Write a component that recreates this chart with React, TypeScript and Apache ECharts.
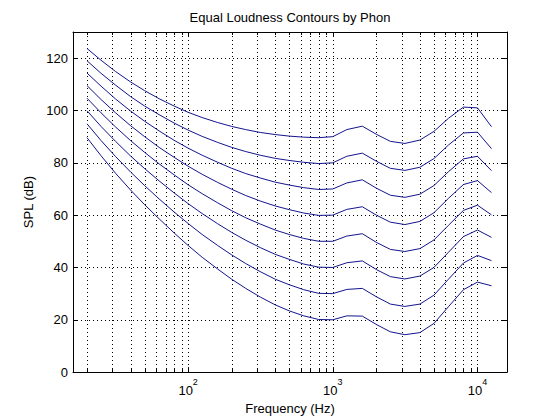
import React, { useEffect, useRef } from "react";
import * as echarts from "echarts";

const frequencies = [20, 25, 31.5, 40, 50, 63, 80, 100, 125, 160, 200, 250, 315, 400, 500, 630, 800, 1000, 1250, 1600, 2000, 2500, 3150, 4000, 5000, 6300, 8000, 10000, 12500];

const phon20 = [89.6, 82.7, 76.0, 69.6, 64.0, 58.6, 53.2, 48.4, 43.9, 39.4, 35.5, 32.0, 28.7, 25.7, 23.4, 21.5, 20.1, 20.0, 21.5, 21.4, 18.2, 15.4, 14.3, 15.1, 18.6, 25.0, 31.5, 34.4, 33.0];
const phon30 = [94.9, 88.5, 82.4, 76.5, 71.3, 66.2, 61.2, 56.8, 52.6, 48.4, 44.8, 41.5, 38.4, 35.5, 33.4, 31.5, 30.1, 30.0, 31.6, 32.0, 28.8, 26.0, 25.1, 26.0, 29.4, 35.5, 41.7, 44.6, 42.6];
const phon40 = [99.9, 93.9, 88.2, 82.6, 77.8, 73.1, 68.5, 64.4, 60.6, 56.7, 53.4, 50.4, 47.6, 45.0, 43.1, 41.3, 40.1, 40.0, 41.8, 42.5, 39.2, 36.5, 35.6, 36.7, 40.0, 45.8, 51.8, 54.3, 51.5];
const phon50 = [104.7, 99.1, 93.7, 88.5, 84.0, 79.6, 75.4, 71.6, 68.2, 64.7, 61.7, 59.0, 56.6, 54.3, 52.6, 51.1, 50.0, 50.0, 52.0, 52.9, 49.6, 46.9, 46.1, 47.2, 50.5, 56.1, 61.8, 63.8, 60.1];
const phon60 = [109.5, 104.2, 99.1, 94.2, 90.0, 85.9, 82.1, 78.7, 75.6, 72.5, 69.9, 67.5, 65.4, 63.5, 62.1, 60.8, 59.9, 60.0, 62.2, 63.2, 60.0, 57.3, 56.4, 57.6, 60.9, 66.4, 71.7, 73.2, 68.6];
const phon70 = [114.3, 109.3, 104.4, 99.8, 95.9, 92.2, 88.6, 85.6, 82.9, 80.2, 77.9, 75.9, 74.2, 72.6, 71.5, 70.5, 69.8, 70.0, 72.3, 73.5, 70.3, 67.6, 66.8, 68.0, 71.3, 76.6, 81.5, 82.5, 77.0];
const phon80 = [119.0, 114.2, 109.7, 105.3, 101.7, 98.4, 95.2, 92.5, 90.1, 87.8, 85.9, 84.3, 82.9, 81.7, 80.9, 80.2, 79.7, 80.0, 82.5, 83.7, 80.6, 77.9, 77.1, 78.3, 81.6, 86.8, 91.4, 91.7, 85.4];
const phon90 = [123.7, 119.2, 114.9, 110.9, 107.6, 104.5, 101.7, 99.3, 97.3, 95.4, 93.9, 92.7, 91.6, 90.8, 90.2, 89.8, 89.6, 90.0, 92.7, 94.0, 90.9, 88.2, 87.4, 88.7, 92.0, 97.0, 101.3, 101.0, 93.8];

const contours = [phon20, phon30, phon40, phon50, phon60, phon70, phon80, phon90];
const minorGridFreqs = [20, 30, 40, 50, 60, 70, 80, 90, 200, 300, 400, 500, 600, 700, 800, 900, 2000, 3000, 4000, 5000, 6000, 7000, 8000, 9000];

const FONT = "'Liberation Sans', Arial, Helvetica, sans-serif";
const LINE_COLOR = "#14148e";
const DASH = [1, 3];

export default function App() {
  const ref = useRef<HTMLDivElement>(null);

  useEffect(() => {
    if (!ref.current) return;
    const chart = echarts.init(ref.current, undefined, { renderer: "svg" });

    const decadeLabel = (v: number) => {
      const e = Math.log10(v);
      const r = Math.round(e);
      if (Math.abs(e - r) > 1e-6) return "";
      return "{b|10}{s|" + r + "}";
    };

    const lineSeries = contours.map((vals, i) => ({
      type: "line",
      name: "phon" + (20 + i * 10),
      data: frequencies.map((f, j) => [f, vals[j]]),
      symbol: "none",
      smooth: false,
      lineStyle: { color: LINE_COLOR, width: 1 },
      itemStyle: { color: LINE_COLOR },
      z: 5,
      silent: true,
    }));

    const minorSeries = {
      type: "custom",
      silent: true,
      z: 1,
      data: minorGridFreqs.map((f) => [f, 0]),
      encode: { x: 0, y: 1 },
      renderItem: (params: any, api: any) => {
        const p = api.coord([api.value(0), 0]);
        const cs = params.coordSys;
        const x = Math.round(p[0]) + 0.5;
        const top = cs.y;
        const bottom = cs.y + cs.height;
        return {
          type: "group",
          children: [
            { type: "line", shape: { x1: x, y1: top, x2: x, y2: bottom }, style: { stroke: "#000", lineWidth: 1, lineDash: DASH } },
            { type: "line", shape: { x1: x, y1: bottom, x2: x, y2: bottom - 3 }, style: { stroke: "#000", lineWidth: 1 } },
            { type: "line", shape: { x1: x, y1: top, x2: x, y2: top + 3 }, style: { stroke: "#000", lineWidth: 1 } },
          ],
        };
      },
    };

    const axisLine = { show: true, onZero: false, lineStyle: { color: "#000", width: 1 } };
    const dotted = { show: true, lineStyle: { color: "#000", width: 1, type: DASH } };

    chart.setOption({
      animation: false,
      backgroundColor: "#fff",
      grid: { left: 73, right: 53, top: 32, bottom: 46, containLabel: false },
      graphic: [
        {
          type: "text",
          x: 290,
          y: 17,
          style: { text: "Equal Loudness Contours by Phon", font: "13px " + FONT, fill: "#000", textAlign: "center", textVerticalAlign: "middle" },
        },
      ],
      xAxis: [
        {
          type: "log",
          logBase: 10,
          min: 16,
          max: 16000,
          splitNumber: 3,
          position: "bottom",
          axisLine,
          axisTick: { show: true, inside: true, length: 5, lineStyle: { color: "#000" } },
          splitLine: dotted,
          axisLabel: {
            show: true,
            margin: 5,
            formatter: decadeLabel,
            showMinLabel: false,
            showMaxLabel: false,
            rich: {
              b: { fontSize: 13, lineHeight: 20, verticalAlign: "bottom", fontFamily: FONT, color: "#000" },
              s: { fontSize: 9, lineHeight: 11, verticalAlign: "top", fontFamily: FONT, color: "#000" },
            },
          },
          name: "Frequency (Hz)",
          nameLocation: "middle",
          nameGap: 27,
          nameTextStyle: { fontSize: 13, fontFamily: FONT, color: "#000" },
        },
        {
          type: "log",
          logBase: 10,
          min: 16,
          max: 16000,
          splitNumber: 3,
          position: "top",
          axisLine,
          axisTick: { show: true, inside: true, length: 5, lineStyle: { color: "#000" } },
          splitLine: { show: false },
          axisLabel: { show: false },
        },
      ],
      yAxis: [
        {
          type: "value",
          min: 0,
          max: 130,
          interval: 20,
          position: "left",
          axisLine,
          axisTick: { show: true, inside: true, length: 5, lineStyle: { color: "#000" } },
          splitLine: dotted,
          axisLabel: {
            margin: 5,
            fontSize: 13,
            fontFamily: FONT,
            color: "#000",
            showMaxLabel: false,
            formatter: (v: number) => (v > 120 ? "" : String(v)),
          },
          name: "SPL (dB)",
          nameLocation: "middle",
          nameGap: 32,
          nameTextStyle: { fontSize: 13, fontFamily: FONT, color: "#000" },
        },
        {
          type: "value",
          min: 0,
          max: 130,
          interval: 20,
          position: "right",
          axisLine,
          axisTick: { show: true, inside: true, length: 5, lineStyle: { color: "#000" } },
          splitLine: { show: false },
          axisLabel: { show: false },
        },
      ],
      series: [minorSeries, ...lineSeries],
    });

    return () => chart.dispose();
  }, []);

  return (
    <div
      ref={ref}
      style={{ position: "absolute", left: 0, top: 0, width: 560, height: 420, background: "#fff" }}
    />
  );
}
